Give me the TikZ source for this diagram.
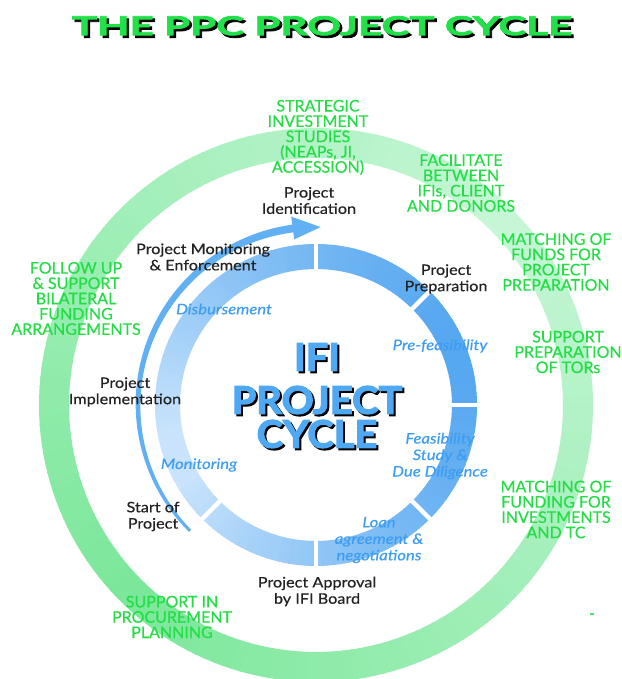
\documentclass[tikz,border=0pt]{standalone}
\usepackage{fontspec}
\setmainfont{Lato}
\newfontfamily\labfont[FakeBold=0.4,FakeStretch=1.12]{Lato}
\newfontfamily\grfont[FakeBold=0.3]{Lato}
\newfontfamily\itfont[FakeBold=0.3,FakeStretch=1.15]{Lato}
\newfontfamily\heavyfont[BoldFeatures={FakeBold=3,FakeStretch=1.05}]{Lato}
\newfontfamily\titlefont[BoldFeatures={FakeBold=3,FakeStretch=1.62}]{Lato}
\newcommand\shtext[2]{\rlap{\hspace{#1}\raisebox{-#1}{\textcolor{black}{#2}}}#2}
\definecolor{ringdark}{HTML}{55A7F0}
\definecolor{ringlight}{HTML}{C8E3FB}
\definecolor{gdark}{HTML}{7BE79A}
\definecolor{glight}{HTML}{C6F6D6}
\definecolor{labgreen}{HTML}{22DD44}
\definecolor{labblue}{HTML}{3D9DF2}
\definecolor{bigblue}{HTML}{4FA9F2}
\definecolor{titlegreen}{HTML}{22E04A}
\definecolor{labblack}{HTML}{222222}
\definecolor{arrowblue}{HTML}{62B0F4}
\begin{document}
\begin{tikzpicture}[x=1pt,y=1pt,
  greenlab/.style={text=labgreen, font=\fontsize{16}{15.3}\grfont, align=center, inner sep=0pt},
  blacklab/.style={text=labblack, font=\fontsize{14.5}{16.3}\labfont, align=center, inner sep=0pt},
  bluelab/.style={text=labblue, font=\fontsize{14.5}{16.5}\itfont\itshape, align=center, inner sep=0pt},
  bigtext/.style={text=bigblue, font=\fontsize{38}{38}\heavyfont\bfseries, inner sep=0pt},
  titletext/.style={text=titlegreen, font=\fontsize{26}{26}\titlefont\bfseries, inner sep=0pt}]
\useasboundingbox (0,0) rectangle (621,679);
\fill[white] (0,0) rectangle (621,679);
\coordinate (c) at (316,274);
% outer green ring
\foreach \a in {0,2,...,358}{
  \pgfmathsetmacro\b{\a+2.4}
  \pgfmathsetmacro\d{abs(mod(\a+1-225+540,360)-180)}
  \pgfmathtruncatemacro\p{100*(1-\d/180)}
  \fill[gdark!\p!glight] ([shift={(c)}]\a:247) -- ([shift={(c)}]\a:277)
    arc[start angle=\a,end angle=\b,radius=277] -- ([shift={(c)}]\b:247)
    arc[start angle=\b,end angle=\a,radius=247] -- cycle;
}
% inner blue ring
\foreach \a in {0,2,...,358}{
  \pgfmathsetmacro\b{\a+2.4}
  \pgfmathsetmacro\d{abs(mod(\a+1-20+540,360)-180)}
  \pgfmathsetmacro\t{min(1,\d/170)}
  \pgfmathtruncatemacro\p{100*(1-\t^1.5)}
  \fill[ringdark!\p!ringlight] ([shift={(c)}]\a:136) -- ([shift={(c)}]\a:161)
    arc[start angle=\a,end angle=\b,radius=161] -- ([shift={(c)}]\b:136)
    arc[start angle=\b,end angle=\a,radius=136] -- cycle;
}
\foreach \g in {90,45,0,-45,-90,-135}{
  \draw[white, line width=4.5pt] ([shift={(c)}]\g:132) -- ([shift={(c)}]\g:165);
}
% cycle arrow
\fill[arrowblue] plot[domain=225:97, samples=60, variable=\t]
   ({316+(178+(1.5+2.4*(225-\t)/128))*cos(\t)}, {274+(178+(1.5+2.4*(225-\t)/128))*sin(\t)})
   -- plot[domain=97:225, samples=60, variable=\t]
   ({316+(178-(1.5+2.4*(225-\t)/128))*cos(\t)}, {274+(178-(1.5+2.4*(225-\t)/128))*sin(\t)}) -- cycle;
\fill[arrowblue] ([shift={(c)}]97.5:167) -- ([shift={(c)}]97.5:190) -- ([shift={(c)}]88.5:178) -- cycle;
% title
\node[titletext] (title) at (322,652) {\shtext{2.5pt}{THE PPC PROJECT CYCLE}};
% centre
\node[bigtext] (ifi) at (317,321) {\shtext{2pt}{IFI}};
\node[bigtext] (proj) at (317,278) {\shtext{2pt}{PROJECT}};
\node[bigtext] (cyc) at (317,244) {\shtext{2pt}{CYCLE}};
% green labels
\node[greenlab] (g1) at (318,541.5) {STRATEGIC\\INVESTMENT\\STUDIES\\(NEAPs, JI,\\ACCESSION)};
\node[greenlab] (g2) at (461,496) {FACILITATE\\BETWEEN\\IFIs, CLIENT\\AND DONORS};
\node[greenlab] (g3) at (556,417) {MATCHING OF\\FUNDS FOR\\PROJECT\\PREPARATION};
\node[greenlab] (g4) at (568,327) {SUPPORT\\PREPARATION\\OF TORs};
\node[greenlab] (g5) at (556,169.5) {MATCHING OF\\FUNDING FOR\\INVESTMENTS\\AND TC};
\node[greenlab] (g6) at (592,63) {-};
\node[greenlab] (g7) at (172,62) {SUPPORT IN\\PROCUREMENT\\PLANNING};
\node[greenlab] (g8) at (76,380.5) {FOLLOW UP\\\& SUPPORT\\BILATERAL\\FUNDING\\ARRANGEMENTS};
% black labels
\node[blacklab] (b1) at (309,478.5) {Project\\Identification};
\node[blacklab] (b2) at (203,422) {Project Monitoring\\\& Enforcement};
\node[blacklab] (b3) at (446,400) {Project\\Preparation};
\node[blacklab] (b4) at (125,287) {Project\\Implementation};
\node[blacklab] (b5) at (153,162.5) {Start of\\Project};
\node[blacklab] (b6) at (317,87.5) {Project Approval\\by IFI Board};
% blue italic labels
\node[bluelab] (i1) at (224,370) {Disbursement};
\node[bluelab] (i2) at (440,333) {Pre-feasibility};
\node[bluelab] (i3) at (199,214) {Monitoring};
\node[bluelab] (i4) at (440,223) {Feasibility\\Study \&\\Due Diligence};
\node[bluelab] (i5) at (379,139) {Loan\\agreement \&\\negotiations};
\end{tikzpicture}
\end{document}
